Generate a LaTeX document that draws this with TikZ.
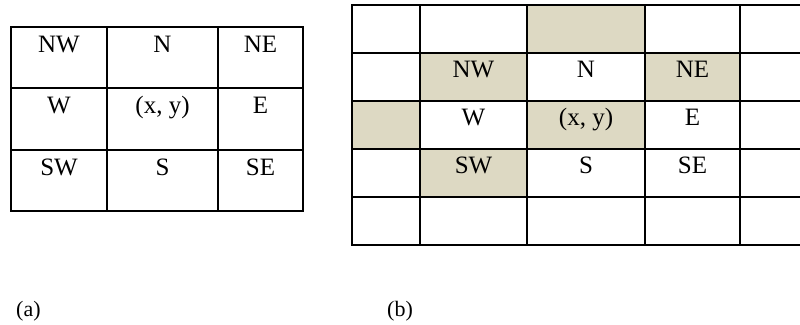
\documentclass[tikz,border=0pt]{standalone}
\usepackage{fontspec}
\setmainfont{Liberation Serif}
\definecolor{cellfill}{HTML}{DDD9C3}
\begin{document}
\begin{tikzpicture}[x=1pt, y=-1pt,
  rule/.style={line width=2.2pt, line cap=rect},
  shade/.style={fill=cellfill},
  lbl/.style={anchor=base, inner sep=0pt, font=\fontsize{25}{30}\selectfont},
  capt/.style={anchor=base west, inner sep=0pt, font=\fontsize{22}{26}\selectfont}]
\useasboundingbox (0,0) rectangle (800,324);

% ---- (a): 3x3 neighbourhood ----
\foreach \x in {11,107,218,303} \draw[rule] (\x,27) -- (\x,211);
\foreach \y in {27,88,150,211} \draw[rule] (11,\y) -- (303,\y);

\node[lbl] (a-nw) at (59,52)    {NW};
\node[lbl] (a-n)  at (162.5,52) {N};
\node[lbl] (a-ne) at (260.5,52) {NE};
\node[lbl] (a-w)  at (59,113)   {W};
\node[lbl] (a-c)  at (162.5,113){(x, y)};
\node[lbl] (a-e)  at (260.5,113){E};
\node[lbl] (a-sw) at (59,175)   {SW};
\node[lbl] (a-s)  at (162.5,175){S};
\node[lbl] (a-se) at (260.5,175){SE};

% ---- (b): neighbourhood inside a larger grid ----
\fill[shade] (527,5)   rectangle (645,53);
\fill[shade] (420,53)  rectangle (527,101);
\fill[shade] (645,53)  rectangle (740,101);
\fill[shade] (352,101) rectangle (420,149);
\fill[shade] (527,101) rectangle (645,149);
\fill[shade] (420,149) rectangle (527,197);

\foreach \x in {352,420,527,645,740} \draw[rule] (\x,5) -- (\x,245);
\foreach \y in {5,53,101,149,197,245} \draw[rule] (352,\y) -- (801,\y);

\node[lbl] (b-nw) at (473.5,77)  {NW};
\node[lbl] (b-n)  at (586,77)    {N};
\node[lbl] (b-ne) at (692.5,77)  {NE};
\node[lbl] (b-w)  at (473.5,125) {W};
\node[lbl] (b-c)  at (586,125)   {(x, y)};
\node[lbl] (b-e)  at (692.5,125) {E};
\node[lbl] (b-sw) at (473.5,173) {SW};
\node[lbl] (b-s)  at (586,173)   {S};
\node[lbl] (b-se) at (692.5,173) {SE};

% ---- captions ----
\node[capt] (cap-a) at (16,316)  {(a)};
\node[capt] (cap-b) at (387,316) {(b)};
\end{tikzpicture}
\end{document}
